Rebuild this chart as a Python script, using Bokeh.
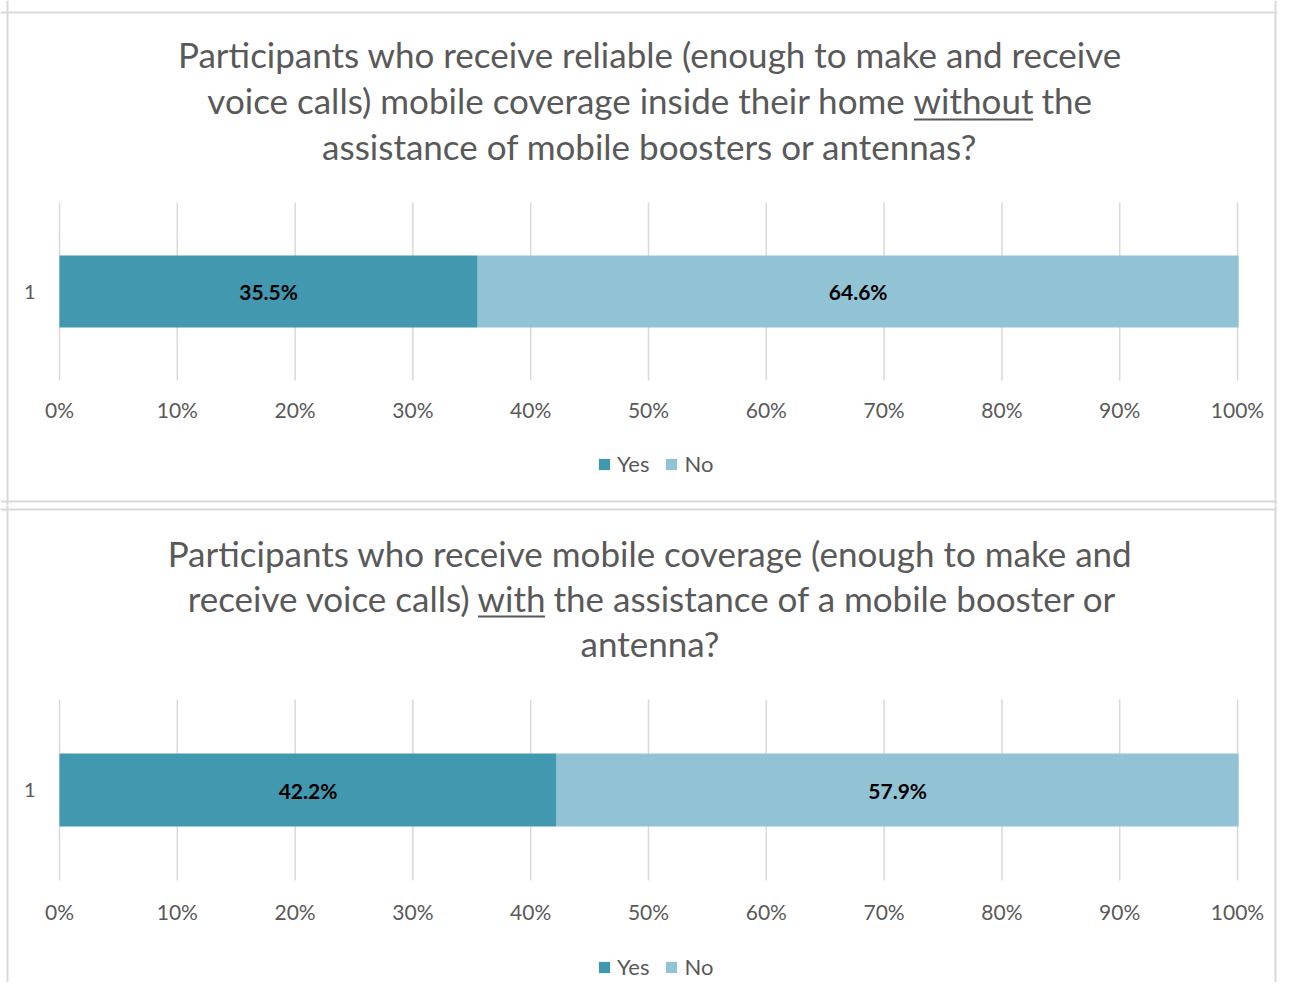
from bokeh.plotting import figure
from bokeh.models import (Range1d, Label, Arrow, Legend, LegendItem, Span,
                          ColumnDataSource)
from bokeh.layouts import column
from bokeh.embed import file_html
from bokeh.resources import INLINE
from bokeh.core.properties import value

# ---------------- data ----------------
categories = ["1"]
series = ["Yes", "No"]
colors = ["#4198AF", "#92C3D5"]

q1_yes = [35.5]
q1_no = [64.6]
q2_yes = [42.2]
q2_no = [57.9]

ticks = [0, 10, 20, 30, 40, 50, 60, 70, 80, 90, 100]
tick_labels = ["0%", "10%", "20%", "30%", "40%", "50%", "60%", "70%", "80%", "90%", "100%"]

q1_title = ["Participants who receive reliable (enough to make and receive",
            "voice calls) mobile coverage inside their home", "without", "the",
            "assistance of mobile boosters or antennas?"]
q2_title = ["Participants who receive mobile coverage (enough to make and",
            "receive voice calls)", "with", "the assistance of a mobile booster or",
            "antenna?"]

# ---------------- style / layout (pixels) ----------------
FONT = "Lato"
TXT = "#595959"
GRID = "#D9D9D9"
W = 1277               # canvas width
X0, X100 = 59, 1237    # canvas x of 0% and 100%
PXPCT = (X100 - X0) / 100.0
TITLE_FS = 35
TICK_FS = 21
BASE_ADJ = 0.41        # empirical shift for alphabetic baseline (em)


def make_panel(yes, no, title, L):
    H, top = L["H"], L["top"]

    def py(y):          # picture y -> canvas y from bottom
        return top + H - y

    band_b, band_t = py(L["band"][0]), py(L["band"][1])
    band_h = band_t - band_b
    n = len(categories)
    p = figure(width=W, height=H,
               x_range=Range1d(-X0 / PXPCT, 100 + (W - X100) / PXPCT),
               y_range=Range1d(-band_b / band_h * n, n + (H - band_t) / band_h * n),
               x_axis_location=None, y_axis_location=None, title_location=None,
               output_backend="svg", toolbar_location=None, min_border=0)
    p.grid.grid_line_color = None
    p.background_fill_color = "white"
    p.border_fill_color = "white"
    p.outline_line_color = None
    p.extra_x_ranges = {"px": Range1d(0, W)}
    p.extra_y_ranges = {"py": Range1d(0, H)}

    # gridlines over the plot band
    p.segment(x0=ticks, x1=ticks, y0=[0] * len(ticks), y1=[n] * len(ticks),
              line_color=GRID, line_width=1.5)

    ypos = [i + 0.5 for i in range(n)]
    src = ColumnDataSource(dict(
        y=ypos,
        yes_l=[0 for _ in yes], yes_r=yes,
        no_l=yes, no_r=[a + b for a, b in zip(yes, no)],
        yes_mid=[a / 2 for a in yes], no_mid=[a + b / 2 for a, b in zip(yes, no)],
        yes_txt=["%.1f%%" % a for a in yes], no_txt=["%.1f%%" % b for b in no],
    ))
    r_yes = p.hbar(y="y", left="yes_l", right="yes_r", height=L["bar_h"], source=src,
                   fill_color=colors[0], line_color=None)
    r_no = p.hbar(y="y", left="no_l", right="no_r", height=L["bar_h"], source=src,
                  fill_color=colors[1], line_color=None)
    for col in ("yes_mid", "no_mid"):
        p.text(x=col, y="y", text=col.replace("mid", "txt"), source=src,
               text_align="center", text_baseline="middle",
               text_font=value(FONT), text_font_style="bold",
               text_font_size="21px", text_color="black")

    # category labels
    p.text(x=[35] * n, y=ypos, text=categories, x_range_name="px",
           text_align="right", text_baseline="middle", text_font=value(FONT),
           text_font_size="20px", text_color=TXT)
    # tick labels
    p.text(x=ticks, y=[py(L["tick_base"] - BASE_ADJ * TICK_FS)] * len(ticks),
           text=tick_labels, y_range_name="py",
           text_align="center", text_baseline="alphabetic", text_font=value(FONT),
           text_font_size="%dpx" % TICK_FS, text_color=TXT)

    legend = Legend(items=[LegendItem(label=series[0], renderers=[r_yes]),
                           LegendItem(label=series[1], renderers=[r_no])],
                    orientation="horizontal",
                    location=(597, py(L["legend_c"]) - 13),
                    glyph_width=14, glyph_height=14, label_standoff=6, spacing=15,
                    label_text_font=FONT, label_text_font_size="22px",
                    label_text_color=TXT, border_line_color=None,
                    background_fill_alpha=0, padding=0, margin=0)
    p.add_layout(legend)

    # title
    common = dict(x_range_name="px", y_range_name="py", text_font=FONT,
                  text_font_size="%dpx" % TITLE_FS, text_color=TXT,
                  text_baseline="alphabetic")
    adj = BASE_ADJ * TITLE_FS - 2
    l1y, l2y, l3y = [py(b - adj) for b in L["title_base"]]
    cx = 649.5
    p.add_layout(Label(x=cx, y=l1y, text=title[0], text_align="center", **common))
    p.add_layout(Label(x=L["a_right"], y=l2y, text=title[1], text_align="right", **common))
    p.add_layout(Label(x=L["b_center"], y=l2y, text=title[2], text_align="center", **common))
    p.add_layout(Label(x=L["c_left"], y=l2y, text=title[3], text_align="left", **common))
    p.add_layout(Label(x=cx, y=l3y, text=title[4], text_align="center", **common))
    bc, bw = L["b_center"], L["ul_w"]
    p.add_layout(Arrow(start=None, end=None, x_start=bc - bw / 2, x_end=bc + bw / 2,
                       y_start=py(L["ul_y"]), y_end=py(L["ul_y"]), line_color=TXT,
                       line_width=2, x_range_name="px", y_range_name="py"))

    # panel border
    for loc in (7, W - 2):
        p.add_layout(Span(location=loc, dimension="height", line_color=GRID,
                          line_width=2, x_range_name="px"))
    for yb in L["hborders"]:
        p.add_layout(Span(location=py(yb), dimension="width", line_color=GRID,
                          line_width=2, y_range_name="py"))
    return p


L1 = dict(top=0, H=505, band=(380, 202), bar_h=72 / 178, tick_base=418, legend_c=464,
          title_base=(66, 112, 158), a_right=905, b_center=973, c_left=1041,
          ul_w=119, ul_y=119, hborders=(12, 501))
L2 = dict(top=505, H=477, band=(880, 699), bar_h=73 / 181, tick_base=920, legend_c=967,
          title_base=(565, 610, 655), a_right=470, b_center=511, c_left=553,
          ul_w=67, ul_y=616, hborders=(509,))

p1 = make_panel(q1_yes, q1_no, q1_title, L1)
p2 = make_panel(q2_yes, q2_no, q2_title, L2)

page = column(p1, p2, spacing=0)
open("out.html", "w").write(file_html(page, INLINE))
